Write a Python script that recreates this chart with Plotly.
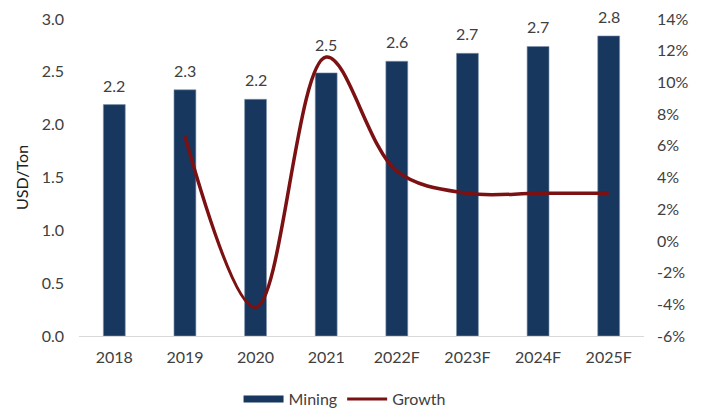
import plotly.graph_objects as go

years = ["2018", "2019", "2020", "2021", "2022F", "2023F", "2024F", "2025F"]
mining = [2.19, 2.33, 2.24, 2.49, 2.60, 2.675, 2.74, 2.84]
growth_years = ["2019", "2020", "2021", "2022F", "2023F", "2024F", "2025F"]
growth = [0.066, -0.042, 0.116, 0.044, 0.030, 0.030, 0.030]

left_ticks = [0.0, 0.5, 1.0, 1.5, 2.0, 2.5, 3.0]
right_ticks = [-0.06, -0.04, -0.02, 0.0, 0.02, 0.04, 0.06, 0.08, 0.10, 0.12, 0.14]
right_labels = [f"{round(t * 100)}%" for t in right_ticks]

FONT = "Lato"
TXT = "#404040"
NAVY = "#17375E"
MAROON = "#7B1113"

fig = go.Figure()
fig.add_trace(go.Bar(
    x=years, y=mining, name="Mining", showlegend=False,
    marker=dict(color=NAVY, line=dict(color="#7f93ad", width=0.6)),
))
fig.add_trace(go.Scatter(
    x=growth_years, y=growth, name="Growth", yaxis="y2", showlegend=False,
    mode="lines", line=dict(color=MAROON, width=3.5, shape="spline", smoothing=1.0),
))
# legend entries (legend-only) mimicking the wide swatches
fig.add_trace(go.Scatter(x=[years[0]], y=[None], name="Mining", mode="lines",
                         line=dict(color=NAVY, width=7)))
fig.add_trace(go.Scatter(x=[years[0]], y=[None], name="Growth", mode="lines",
                         line=dict(color=MAROON, width=3)))

# value labels above bars (category index positions on the x axis)
label_lift = {"2021": 9}  # label moved up to clear the growth line
for i, (yr, v) in enumerate(zip(years, mining)):
    fig.add_annotation(x=i, y=v, xref="x", yref="y", text=f"{v:.1f}", showarrow=False,
                       yanchor="bottom", yshift=8 + label_lift.get(yr, 0),
                       font=dict(family=FONT, size=16, color=TXT))

fig.update_layout(
    width=698, height=401,
    margin=dict(l=71, r=62, t=11, b=73, autoexpand=False),
    paper_bgcolor="white", plot_bgcolor="white",
    font=dict(family=FONT, size=16, color=TXT),
    bargap=0.69,
    showlegend=True,
    legend=dict(orientation="h", x=0.47, xanchor="center", y=-0.199, yanchor="middle",
                font=dict(family=FONT, size=16, color=TXT), traceorder="normal",
                itemwidth=40, tracegroupgap=0),
    xaxis=dict(type="category", categoryorder="array", categoryarray=years,
               range=[-0.5, len(years) - 0.5],
               showgrid=False, showline=True, linecolor="#d9d9d9", linewidth=1,
               ticks="", automargin=False, ticklabelstandoff=7,
               tickfont=dict(family=FONT, size=16, color=TXT)),
    yaxis=dict(range=[0, 3.0], tickvals=left_ticks, tickformat=".1f",
               showgrid=False, zeroline=False, showline=False, ticks="",
               automargin=False, ticklabelstandoff=14,
               tickfont=dict(family=FONT, size=16, color=TXT),
               title=dict(text="USD/Ton", font=dict(family=FONT, size=16, color="#202020"), standoff=9)),
    yaxis2=dict(range=[-0.06, 0.14], tickvals=right_ticks, ticktext=right_labels,
                overlaying="y", side="right", showgrid=False, zeroline=False,
                showline=False, ticks="", automargin=False, ticklabelstandoff=12,
                tickfont=dict(family=FONT, size=16, color=TXT)),
)

fig.write_html("out.html")
